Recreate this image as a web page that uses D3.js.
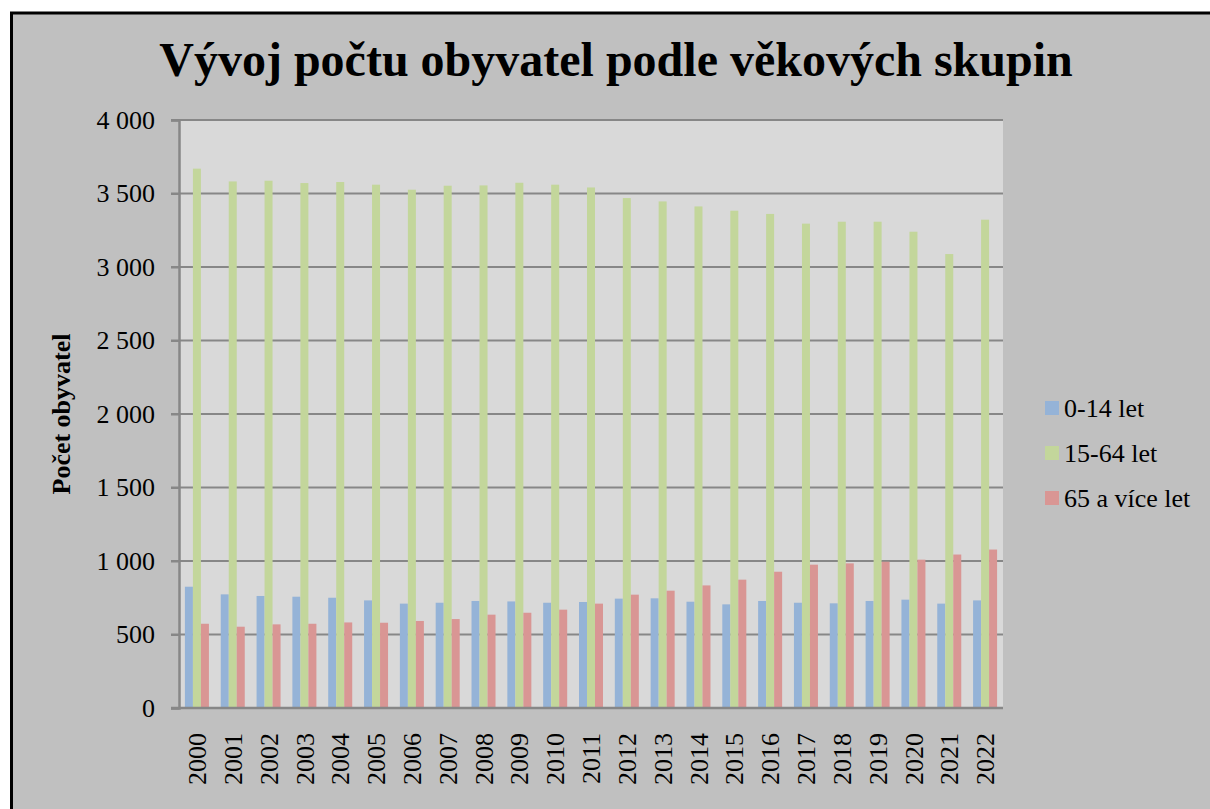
<!DOCTYPE html>
<html>
<head>
<meta charset="utf-8">
<script src="https://cdn.jsdelivr.net/npm/d3@7"></script>
<style>
  body { margin: 0; background: #fff; }
  svg text { font-family: "Liberation Serif", "Times New Roman", serif; fill: #000; }
</style>
</head>
<body>
<svg id="chart"></svg>
<script>
"use strict";

const years = ["2000", "2001", "2002", "2003", "2004", "2005", "2006", "2007", "2008", "2009", "2010", "2011",
  "2012", "2013", "2014", "2015", "2016", "2017", "2018", "2019", "2020", "2021", "2022"];
const kids = [825, 773, 762, 757, 750, 732, 710, 716, 728, 725, 716, 721,
  744, 746, 723, 705, 728, 716, 712, 728, 737, 710, 732];
const adults = [3669, 3582, 3587, 3571, 3578, 3560, 3526, 3553, 3555, 3573, 3560, 3541,
  3469, 3446, 3412, 3383, 3361, 3295, 3308, 3308, 3240, 3088, 3322];
const seniors = [573, 553, 569, 573, 582, 580, 592, 605, 635, 648, 669, 710,
  771, 798, 834, 873, 927, 975, 984, 995, 1009, 1044, 1078];
const seriesNames = ["0-14 let", "15-64 let", "65 a více let"];
const yTicks = [0, 500, 1000, 1500, 2000, 2500, 3000, 3500, 4000];

const colors = ["#95b3d7", "#c3d69b", "#d99694"];
const W = 1210, H = 809;
const plot = { left: 179, top: 120, right: 1003, bottom: 708 };

const rows = years.map((y, i) => ({ year: y, vals: [kids[i], adults[i], seniors[i]] }));

const svg = d3.select('#chart')
  .attr('width', W)
  .attr('height', H);

// frame
svg.append('rect')
  .attr('x', 11.5).attr('y', 13)
  .attr('width', W + 20).attr('height', H + 20)
  .attr('fill', '#c0c0c0')
  .attr('stroke', '#000')
  .attr('stroke-width', 3);

svg.append('rect')
  .attr('x', plot.left).attr('y', plot.top)
  .attr('width', plot.right - plot.left).attr('height', plot.bottom - plot.top)
  .attr('fill', '#d9d9d9');

const x = d3.scaleBand()
  .domain(years)
  .range([plot.left, plot.right])
  .paddingInner(0.33)
  .paddingOuter(0.165);

const xs = d3.scaleBand()
  .domain([0, 1, 2])
  .range([0, x.bandwidth()]);

const y = d3.scaleLinear()
  .domain([0, 4000])
  .range([plot.bottom, plot.top]);

const fmt = v => d3.format(',')(v).replace(/,/g, ' ');

// gridlines
svg.append('g')
  .selectAll('line')
  .data(yTicks.filter(t => t > 0))
  .enter()
  .append('line')
  .attr('x1', plot.left - 8)
  .attr('x2', plot.right)
  .attr('y1', d => y(d))
  .attr('y2', d => y(d))
  .attr('stroke', '#878787')
  .attr('stroke-width', 2);

// bars
svg.append('g')
  .selectAll('g')
  .data(rows)
  .enter()
  .append('g')
  .attr('transform', d => `translate(${x(d.year)},0)`)
  .selectAll('rect')
  .data(d => d.vals)
  .enter()
  .append('rect')
  .attr('x', (d, i) => xs(i))
  .attr('width', xs.bandwidth())
  .attr('y', d => y(d))
  .attr('height', d => y(0) - y(d))
  .attr('fill', (d, i) => colors[i]);

// y axis
const yAxis = svg.append('g')
  .attr('transform', `translate(${plot.left},0)`)
  .call(d3.axisLeft(y).tickValues(yTicks).tickFormat(fmt).tickSize(8).tickPadding(16));
yAxis.select('.domain').attr('stroke', '#878787').attr('stroke-width', 2.5);
yAxis.selectAll('.tick line').attr('stroke', '#878787').attr('stroke-width', 2);
yAxis.selectAll('text')
  .attr('font-size', 26)
  .style('font-family', '"Liberation Serif", serif');

// x axis
const xAxis = svg.append('g')
  .attr('transform', `translate(0,${plot.bottom})`)
  .call(d3.axisBottom(x).tickSize(0).tickPadding(0));
xAxis.select('.domain').attr('stroke', '#878787').attr('stroke-width', 2.5)
  .attr('d', `M${plot.left - 8},0H${plot.right}`);
xAxis.selectAll('text')
  .attr('font-size', 26)
  .style('font-family', '"Liberation Serif", serif')
  .attr('transform', 'rotate(-90)')
  .attr('text-anchor', 'end')
  .attr('x', -25)
  .attr('y', 0)
  .attr('dy', '0.35em');

// titles
svg.append('text')
  .attr('x', 616)
  .attr('y', 76)
  .attr('text-anchor', 'middle')
  .attr('font-size', 48)
  .attr('font-weight', 'bold')
  .text('Vývoj počtu obyvatel podle věkových skupin');

svg.append('text')
  .attr('transform', `translate(70,${(plot.top + plot.bottom) / 2}) rotate(-90)`)
  .attr('text-anchor', 'middle')
  .attr('font-size', 26)
  .attr('font-weight', 'bold')
  .text('Počet obyvatel');

// legend
const legend = svg.append('g')
  .selectAll('g')
  .data(seriesNames)
  .enter()
  .append('g')
  .attr('transform', (d, i) => `translate(1045,${408 + i * 45})`);
legend.append('rect')
  .attr('x', 0).attr('y', -7)
  .attr('width', 14).attr('height', 14)
  .attr('fill', (d, i) => colors[i]);
legend.append('text')
  .attr('x', 19)
  .attr('dy', '0.35em')
  .attr('font-size', 26)
  .text(d => d);
</script>
</body>
</html>
